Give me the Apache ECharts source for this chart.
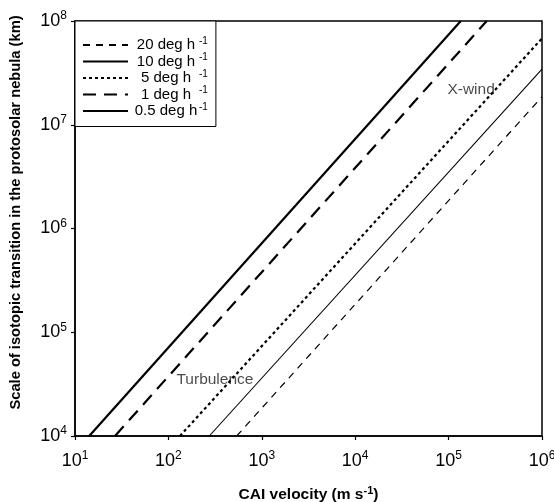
<!DOCTYPE html>
<html>
<head>
<meta charset="utf-8">
<script src="https://cdn.jsdelivr.net/npm/echarts@6/dist/echarts.min.js"></script>
<style>
  html, body { margin: 0; padding: 0; background: #fff; }
  #chart { width: 554px; height: 502px; }
</style>
</head>
<body>
<div id="chart"></div>
<script>
// rotation rates (deg h^-1), legend order
const rates = ['20', '10', '5', '1', '0.5']
// each line read at its two ends
const startVelocity = [538, 274, 133, 26.8, 14.2]
const startScale = [1e4, 1e4, 1e4, 1e4, 1e4]
const endVelocity = [1e6, 1e6, 1e6, 2.56e5, 1.35e5]
const endScale = [1.86e7, 3.44e7, 6.8e7, 1e8, 1e8]

const lineStyles = [
    { type: [7, 6], width: 1.2 },
    { type: 'solid', width: 1.1 },
    { type: [3, 3], width: 2.2 },
    { type: [13, 8], width: 2.2 },
    { type: 'solid', width: 2.2 }
]

const notes = [
    { text: 'X-wind', coord: [1.74e5, 2.16e7] },
    { text: 'Turbulence', coord: [315, 3.47e4] }
]

const font = '"Liberation Sans", Arial, sans-serif'
const supRich = {
    b: { fontSize: 18, fontFamily: font, color: '#000' },
    s: { fontSize: 12, fontFamily: font, color: '#000', padding: [0, 0, 10, 0] }
}
const powLabel = (v) => '{b|10}{s|' + Math.round(Math.log10(v)) + '}'

const chart = echarts.init(document.getElementById('chart'))

const series = rates.map((r, i) => ({
    name: r,
    type: 'line',
    symbol: 'none',
    silent: true,
    data: [[startVelocity[i], startScale[i]], [endVelocity[i], endScale[i]]],
    lineStyle: Object.assign({ color: '#000' }, lineStyles[i])
}))

series.push({
    type: 'scatter',
    silent: true,
    symbolSize: 0,
    data: notes.map(n => ({ value: n.coord, name: n.text })),
    label: {
        show: true,
        position: 'inside',
        formatter: (p) => p.name,
        fontSize: 15.5,
        fontFamily: font,
        color: '#1a1a1a'
    }
})

const option = {
    animation: false,
    grid: {
        left: 75, right: 12, top: 21, bottom: 66,
        outerBoundsMode: 'none',
        containLabel: false,
        show: true, borderColor: '#000', borderWidth: 1.5
    },
    legend: {
        orient: 'vertical',
        left: 75, top: 21,
        data: rates,
        itemWidth: 45,
        itemHeight: 14,
        itemGap: 0,
        padding: [15, 8, 8, 7],
        borderColor: '#000',
        borderWidth: 1,
        backgroundColor: '#fff',
        selectedMode: false,
        itemStyle: { opacity: 0 },
        formatter: (name) => '{a|' + name + ' deg h}{s|-1}',
        textStyle: {
            rich: {
                a: { fontSize: 15, fontFamily: font, color: '#000', width: 66, align: 'right' },
                s: { fontSize: 10, fontFamily: font, color: '#000', padding: [0, 0, 8, 0] }
            }
        }
    },
    xAxis: {
        type: 'log',
        min: 10, max: 1e6,
        logBase: 10,
        name: '{n|CAI velocity (m s}{s|-1}{n|)}',
        nameLocation: 'middle',
        nameGap: 49,
        nameTextStyle: {
            rich: {
                n: { fontSize: 15.5, fontWeight: 'bold', fontFamily: font, color: '#000' },
                s: { fontSize: 11, fontWeight: 'bold', fontFamily: font, color: '#000', padding: [0, 0, 9, 0] }
            }
        },
        axisLine: { lineStyle: { color: '#000', width: 1.5 } },
        axisTick: { length: 4, lineStyle: { color: '#000', width: 1.2 } },
        splitLine: { show: false },
        minorTick: { show: false },
        axisLabel: { formatter: powLabel, rich: supRich, margin: 14 }
    },
    yAxis: {
        type: 'log',
        min: 1e4, max: 1e8,
        logBase: 10,
        name: 'Scale of isotopic transition in the protosolar nebula (km)',
        nameLocation: 'middle',
        nameGap: 52,
        nameTextStyle: {
            fontSize: 14.7, fontWeight: 'bold', fontFamily: font, color: '#000',
            padding: [0, 0, 0, 32]
        },
        axisLine: { lineStyle: { color: '#000', width: 1.5 } },
        axisTick: { length: 4, lineStyle: { color: '#000', width: 1.2 } },
        splitLine: { show: false },
        minorTick: { show: false },
        axisLabel: { formatter: powLabel, rich: supRich, margin: 8 }
    },
    series
}

chart.setOption(option)
</script>
</body>
</html>
